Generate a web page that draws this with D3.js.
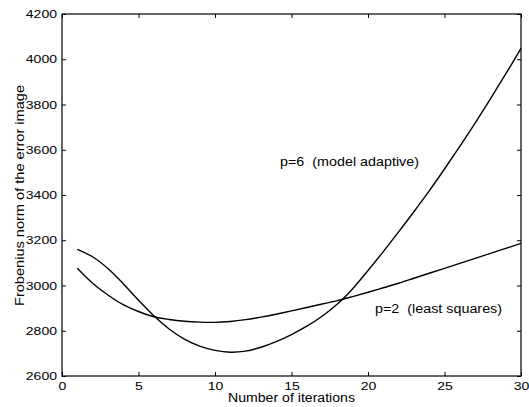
<!DOCTYPE html>
<html><head><meta charset="utf-8">
<script src="https://cdn.jsdelivr.net/npm/d3@7"></script>
<style>body{margin:0;background:#fff;} svg{display:block;} text{font-family:"Liberation Sans",Arial,sans-serif;fill:#000;white-space:pre;}</style>
</head><body><svg id="c" width="529" height="407"></svg>
<script>
const iterations = d3.range(1, 31);
const p6Values = [3160,3127,3075,3008,2935,2866,2808,2763,2732,2713,2705,2710,2727,2752,2783,2820,2864,2918,2986,3066,3150,3237,3326,3418,3515,3615,3718,3825,3935,4048];
const p2Values = [3076,3010,2958,2915,2885,2862,2850,2842,2838,2837,2841,2849,2860,2873,2888,2903,2918,2933,2951,2970,2990,3010,3032,3054,3076,3098,3120,3142,3164,3186];
const xTicks = [0,5,10,15,20,25,30];
const yTicks = [2600,2800,3000,3200,3400,3600,3800,4000,4200];
const seriesLabels = ["p=6  (model adaptive)", "p=2  (least squares)"];
const xTitle = "Number of iterations";
const yTitle = "Frobenius norm of the error image";

const svg = d3.select("#c");
const L = 62, R = 521, T = 14, B = 376;
const x = d3.scaleLinear().domain([0,30]).range([L,R]);
const y = d3.scaleLinear().domain([2600,4200]).range([B,T]);

const g = svg.append("g");
g.append("rect").attr("x",L).attr("y",T).attr("width",R-L).attr("height",B-T)
  .attr("fill","none").attr("stroke","#000").attr("stroke-width",1.2);

const tl = 4;
const axB = d3.axisBottom(x).tickValues(xTicks).tickSize(-tl).tickPadding(6).tickFormat(d3.format("d"));
const axT = d3.axisTop(x).tickValues(xTicks).tickSize(-tl).tickFormat("");
const axL = d3.axisLeft(y).tickValues(yTicks).tickSize(-tl).tickPadding(5).tickFormat(d3.format("d"));
const axR = d3.axisRight(y).tickValues(yTicks).tickSize(-tl).tickFormat("");

function style(sel){
  sel.select(".domain").remove();
  sel.selectAll("line").attr("stroke","#000").attr("stroke-width",1);
  sel.selectAll("text").attr("font-size",11.5).attr("font-family","Liberation Sans, Arial, sans-serif").attr("fill","#000")
    .each(function(){ const t=d3.select(this); const s=t.text(); if(s) t.attr("textLength", s.length*7.8).attr("lengthAdjust","spacingAndGlyphs"); });
}
g.append("g").attr("transform",`translate(0,${B})`).call(axB).call(style);
g.append("g").attr("transform",`translate(0,${T})`).call(axT).call(style);
g.append("g").attr("transform",`translate(${L},0)`).call(axL).call(style);
g.append("g").attr("transform",`translate(${R},0)`).call(axR).call(style);

const line = d3.line().x((d,i)=>x(iterations[i])).y(d=>y(d)).curve(d3.curveCatmullRom.alpha(0.5));
[p6Values, p2Values].forEach(vals=>{
  g.append("path").datum(vals).attr("d",line).attr("fill","none").attr("stroke","#000").attr("stroke-width",1.4);
});

g.append("text").attr("x",x(14.25)).attr("y",y(3528)).attr("font-size",12)
  .attr("textLength",139).attr("lengthAdjust","spacingAndGlyphs").text(seriesLabels[0]);
g.append("text").attr("x",x(20.46)).attr("y",y(2878)).attr("font-size",12)
  .attr("textLength",127).attr("lengthAdjust","spacingAndGlyphs").text(seriesLabels[1]);

g.append("text").attr("x",228).attr("y",402).attr("font-size",12.5)
  .attr("textLength",127).attr("lengthAdjust","spacingAndGlyphs").text(xTitle);
g.append("text").attr("transform",`translate(24,306) rotate(-90)`).attr("font-size",12.5)
  .attr("textLength",221).attr("lengthAdjust","spacingAndGlyphs").text(yTitle);
</script></body></html>
